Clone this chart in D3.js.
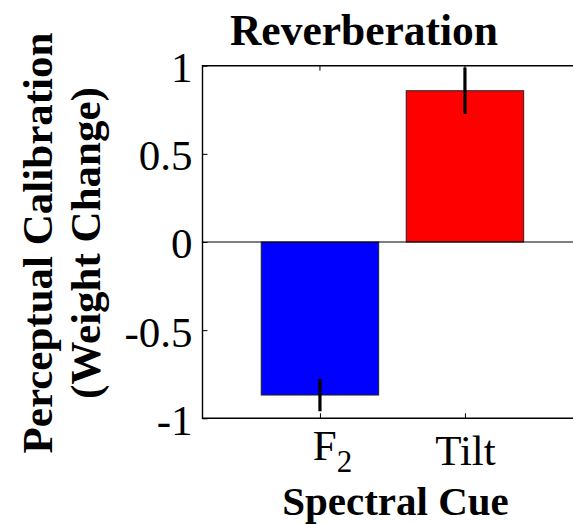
<!DOCTYPE html>
<html>
<head>
<meta charset="utf-8">
<script src="https://cdn.jsdelivr.net/npm/d3@7"></script>
<style>
  html, body { margin: 0; padding: 0; background: #fff; overflow: hidden; }
  svg { display: block; }
  text { font-family: "Liberation Serif", "Times New Roman", serif; fill: #000; }
</style>
</head>
<body>
<svg id="chart" width="573" height="524"></svg>
<script>
// Cue categories, their x positions and bar colours
const categories = ["F2", "Tilt"];
const positions = [1, 2];
const colors = ["#0000ff", "#ff0000"];

// Mean weight change and error (half-length of the error bar)
const values = [-0.868, 0.858];
const errors = [0.092, 0.132];

// Y axis ticks
const yTicks = [-1, -0.5, 0, 0.5, 1];
const yTickLabels = ["-1", "-0.5", "0", "0.5", "1"];

const svg = d3.select("#chart");
const W = 573, H = 524;
svg.append("rect").attr("width", W).attr("height", H).attr("fill", "#fff");

const plotLeft = 202.5, plotTop = 65.7, plotBottom = 418.3;
const x = d3.scaleLinear().domain([0.19, 2.81]).range([plotLeft, plotLeft + 2.62 * 145]);
const y = d3.scaleLinear().domain([-1, 1]).range([plotBottom, plotTop]);
const plotRight = x.range()[1];

svg.append("clipPath").attr("id", "plot-clip")
  .append("rect").attr("x", plotLeft).attr("y", plotTop)
  .attr("width", plotRight - plotLeft).attr("height", plotBottom - plotTop);

const plot = svg.append("g").attr("clip-path", "url(#plot-clip)");

// Bars
const barW = 0.81;
plot.selectAll("rect.bar").data(values).join("rect")
  .attr("class", "bar")
  .attr("x", (d, i) => x(positions[i] - barW / 2))
  .attr("width", (d, i) => x(positions[i] + barW / 2) - x(positions[i] - barW / 2))
  .attr("y", d => y(Math.max(0, d)))
  .attr("height", d => Math.abs(y(d) - y(0)))
  .attr("fill", (d, i) => colors[i])
  .attr("stroke", "#222")
  .attr("stroke-width", 1);

// Zero baseline
plot.append("line")
  .attr("x1", plotLeft).attr("x2", plotRight)
  .attr("y1", y(0)).attr("y2", y(0))
  .attr("stroke", "#000").attr("stroke-width", 1.2);

// Error bars
plot.selectAll("line.err").data(values).join("line")
  .attr("class", "err")
  .attr("x1", (d, i) => x(positions[i])).attr("x2", (d, i) => x(positions[i]))
  .attr("y1", (d, i) => y(d - errors[i]))
  .attr("y2", (d, i) => y(d + errors[i]))
  .attr("stroke", "#000").attr("stroke-width", 3.2);

// Axes
const tickFont = 43;
const yAxis = d3.axisLeft(y).tickValues(yTicks)
  .tickFormat((d, i) => yTickLabels[i])
  .tickSizeInner(-5).tickSizeOuter(0).tickPadding(10);
const gy = svg.append("g").attr("transform", `translate(${plotLeft},0)`).call(yAxis);
gy.select(".domain").remove();
gy.selectAll("text").attr("font-size", tickFont).attr("dy", "0.37em")
  .style("font-family", "Liberation Serif, serif");
gy.selectAll("line").attr("stroke", "#000");

const xAxis = d3.axisBottom(x).tickValues(positions)
  .tickFormat((d, i) => categories[i])
  .tickSizeInner(-5).tickSizeOuter(0).tickPadding(10);
const gx = svg.append("g").attr("transform", `translate(0,${plotBottom})`).call(xAxis);
gx.select(".domain").remove();
gx.selectAll("line").attr("stroke", "#000");
gx.selectAll("text").attr("font-size", tickFont)
  .style("font-family", "Liberation Serif, serif")
  .attr("dy", null)
  .attr("y", (d, i) => i === 0 ? 41.7 : 46.7)
  .each(function (d, i) {
    const t = d3.select(this);
    if (categories[i] === "F2") {
      t.text(null).attr("dx", 12);
      t.append("tspan").text("F");
      t.append("tspan").text("2").attr("font-size", 31).attr("dy", 12);
    }
  });

// Top ticks
svg.selectAll("line.top-tick").data(positions).join("line")
  .attr("class", "top-tick")
  .attr("x1", d => x(d)).attr("x2", d => x(d))
  .attr("y1", plotTop).attr("y2", plotTop + 5)
  .attr("stroke", "#000");

// Axes box (right side lies beyond the canvas)
svg.append("path")
  .attr("d", `M${W},${plotTop}H${plotLeft}V${plotBottom}H${W}`)
  .attr("fill", "none").attr("stroke", "#000").attr("stroke-width", 1.4);

// Title and axis labels
svg.append("text").attr("x", 364).attr("y", 45)
  .attr("text-anchor", "middle").attr("font-size", 43.5).attr("font-weight", "bold")
  .text("Reverberation");

svg.append("text").attr("x", 395.5).attr("y", 515)
  .attr("text-anchor", "middle").attr("font-size", 41).attr("font-weight", "bold")
  .text("Spectral Cue");

const yl = svg.append("text")
  .attr("transform", "translate(0,243) rotate(-90)")
  .attr("text-anchor", "middle").attr("font-size", 43).attr("font-weight", "bold");
yl.append("tspan").attr("x", 0).attr("y", 52).text("Perceptual Calibration");
yl.append("tspan").attr("x", 0).attr("y", 100).text("(Weight Change)");
</script>
</body>
</html>
